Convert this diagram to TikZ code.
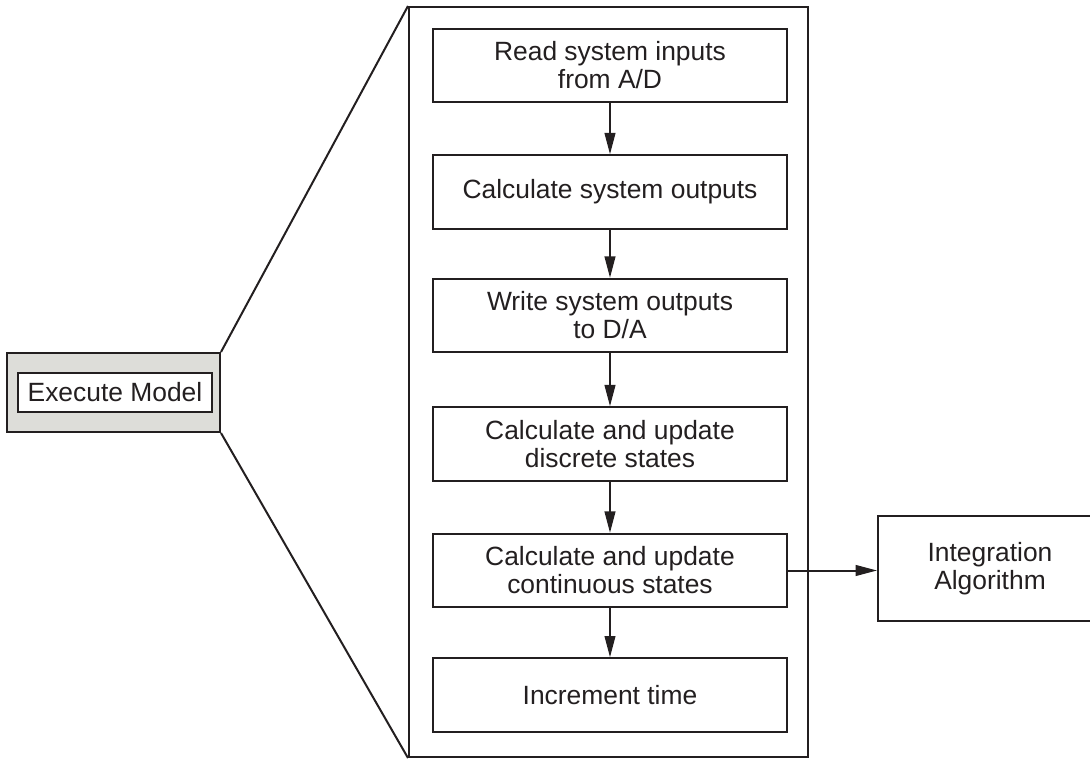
\documentclass[tikz,border=0pt]{standalone}
\usepackage{fontspec}
\setmainfont{Liberation Sans}
\usetikzlibrary{arrows.meta}
\definecolor{ink}{RGB}{35,31,32}
\definecolor{panel}{RGB}{221,221,217}
\begin{document}
\begin{tikzpicture}[x=0.75pt,y=-0.75pt,
  every node/.style={font=\fontsize{19.8pt}{21pt}\selectfont, text=ink},
  stepbox/.style={draw=ink, line width=1.5pt, fill=white, minimum width=265.5pt, minimum height=55pt, align=center, inner sep=0pt},
  conn/.style={draw=ink, line width=1.5pt, -{Triangle[length=16pt,width=8pt]}},
  plain/.style={draw=ink, line width=1.5pt}]
\useasboundingbox (0,0) rectangle (1090,759);
% outer frame
\node[draw=ink, line width=1.5pt, minimum width=299.25pt, minimum height=562.5pt, inner sep=0pt] (frame) at (608.5,382) {};
% left box
\node[draw=ink, line width=1.5pt, fill=panel, minimum width=159.75pt, minimum height=59.25pt, inner sep=0pt] (gray) at (113.5,392.5) {};
\node[draw=ink, line width=1.2pt, fill=white, minimum width=145.5pt, minimum height=29.25pt, inner sep=0pt] (exec) at (115,392.5) {Execute Model};
\draw[plain] (gray.north east) -- (frame.north west);
\draw[plain] (gray.south east) -- (frame.south west);
% steps
\node[stepbox] (b1) at (610,65.5) {Read system inputs\\from A/D};
\node[stepbox] (b2) at (610,192) {Calculate system outputs};
\node[stepbox] (b3) at (610,315.5) {Write system outputs\\to D/A};
\node[stepbox] (b4) at (610,444) {Calculate and update\\discrete states};
\node[stepbox] (b5) at (610,570.5) {Calculate and update\\continuous states};
\node[stepbox] (b6) at (610,695) {Increment time};
\node[draw=ink, line width=1.5pt, minimum width=168pt, minimum height=78.75pt, align=center, inner sep=0pt] (ia) at (990,568.5) {Integration\\Algorithm};
\draw[conn] (b1) -- (b2);
\draw[conn] (b2) -- (b3);
\draw[conn] (b3) -- (b4);
\draw[conn] (b4) -- (b5);
\draw[conn] (b5) -- (b6);
\draw[conn] (b5.east) -- (b5.east -| ia.west);
\end{tikzpicture}
\end{document}
